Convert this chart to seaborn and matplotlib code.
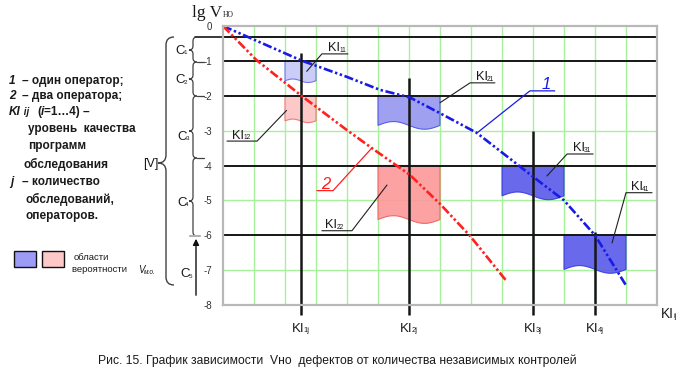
import numpy as np
import matplotlib
matplotlib.use("Agg")
import matplotlib.pyplot as plt
import seaborn as sns
from matplotlib.path import Path
from matplotlib.patches import PathPatch, FancyArrowPatch, Rectangle
from matplotlib.transforms import Affine2D, offset_copy, blended_transform_factory

# ---------------- data ----------------
curve1_x = [0.0, 2.53, 3.97, 5.06, 6.03, 7.0, 8.18, 10.0, 11.0, 12.0, 13.03]
curve1_y = [0.0, -0.99, -1.45, -1.83, -2.05, -2.50, -3.06, -4.32, -5.00, -6.00, -7.48]
curve2_x = [0.0, 1.07, 2.53, 3.99, 4.8, 6.03, 7.0, 7.97, 9.16]
curve2_y = [0.0, -0.97, -2.00, -2.98, -3.50, -4.27, -5.10, -6.02, -7.33]

region_names = ["11", "21", "31", "41", "12", "22"]
region_x0 = [2, 5, 9, 11, 2, 5]
region_x1 = [3, 7, 11, 13, 3, 7]
region_top = [-1, -2, -4, -6, -2, -4]
region_bottom = [-1.57, -2.85, -4.87, -6.98, -2.72, -5.55]
region_colors = ["#c8c8f8", "#9898f0", "#5c5cea", "#5c5cea", "#fcc4c4", "#fc9a9a"]
region_edges = ["#6a6af0", "#5050e8", "#3a3ae0", "#3a3ae0", "#f07070", "#f06060"]

level_lines = [-0.32, -1, -2, -4, -6]
green_levels = [-3, -5, -7]
x_grid = list(range(1, 14))

ki_x = [2.5, 6, 10, 12]
ki_top = [-0.78, -1.5, -3.0, -5.9]
ki_subs = ["1j", "2j", "3j", "4j"]

y_ticks = [0, -1, -2, -3, -4, -5, -6, -7, -8]
y_tick_labels = ["0", "-1", "-2", "-3", "-4", "-5", "-6", "-7", "-8"]

callout_subs = ["11", "12", "21", "31", "41", "22"]
callout_tip_x = [2.7, 2.05, 7.0, 10.45, 12.55, 5.29]
callout_tip_y = [-1.3, -2.42, -2.2, -4.3, -6.22, -4.56]
callout_elbow_x = [3.19, 1.1, 7.97, 11.1, 13.0, 4.16]
callout_elbow_y = [-0.8, -3.3, -1.63, -3.67, -4.78, -5.87]
callout_end_x = [4.03, 0.13, 8.77, 11.94, 13.84, 3.19]
callout_text_x = [3.4, 0.3, 8.15, 11.28, 13.15, 3.3]

curve_names = ["1", "2"]
curve_colors = ["#1a1ae6", "#ff2020"]
curve_tip = [(8.23, -3.04), (4.8, -3.5)]
curve_elbow = [(9.9, -1.86), (3.55, -4.72)]
curve_end_x = [10.7, 3.03]
curve_text_x = [10.42, 3.3]

# ---------------- figure ----------------
sns.set_theme(style="white")
plt.rcParams["font.family"] = ["Liberation Sans", "DejaVu Sans"]

fig = plt.figure(figsize=(6.88, 3.80), dpi=100)
fig.patch.set_facecolor("white")
TP = Affine2D().scale(1 / 688, -1 / 380).translate(0, 1) + fig.transFigure
R = fig.canvas.get_renderer()

ax = fig.add_axes([223 / 688, 1 - 305 / 380, (657 - 223) / 688, (305 - 26) / 380])
ax.set_facecolor("white")

GREEN = "#a6f29a"
BLACK = "#161616"

# grid
ax.vlines(x_grid, -8, 0, color=GREEN, lw=1.0, zorder=1)
ax.hlines(green_levels, 0, 14, color=GREEN, lw=1.0, zorder=1)

# regions with wavy bottom
for n, x0, x1, top, bot, fc, ec in zip(region_names, region_x0, region_x1, region_top,
                                       region_bottom, region_colors, region_edges):
    t = np.linspace(0, 1, 60)
    xs = x0 + (x1 - x0) * t
    amp = 0.055 * (x1 - x0) if (x1 - x0) > 1 else 0.05
    yb = bot + amp * np.sin(2 * np.pi * t)
    px = np.concatenate([[x0], xs, [x1]])
    py = np.concatenate([[top], yb, [top]])
    ax.fill(px, py, facecolor=fc, edgecolor=ec, lw=0.8, alpha=0.92, zorder=2)

# black level lines
ax.hlines(level_lines, 0, 14, color=BLACK, lw=1.4, zorder=3)
ax.plot([-0.9, 0], [-0.32, -0.32], color=BLACK, lw=1.2, clip_on=False, zorder=3)

# KI vertical lines
ax.vlines(ki_x, -8.3, ki_top, color=BLACK, lw=1.8, zorder=3, clip_on=False)

# curves
for xs, ys, c in [(curve1_x, curve1_y, curve_colors[0]), (curve2_x, curve2_y, curve_colors[1])]:
    sns.lineplot(x=xs, y=ys, ax=ax, color=c, linewidth=1.9, sort=False, estimator=None, zorder=5)
    ln = ax.get_lines()[-1]
    ln.set_dashes([3.5, 1.0, 0.9, 1.0, 0.9, 1.0])
    ln.set_dash_capstyle("butt")

ax.set_xlim(0, 14)
ax.set_ylim(-8, 0)
ax.set_xlabel("")
ax.set_ylabel("")
ax.set_xticks([])
ax.set_yticks(y_ticks)
ax.set_yticklabels(y_tick_labels, fontsize=7, color="#303030")
ax.tick_params(axis="y", length=0, pad=8)
for s in ax.spines.values():
    s.set_color("#b8b8b8")
    s.set_linewidth(1.6)
    s.set_visible(True)
    s.set_zorder(6)


def sub_label(x, y, main, sub, transform, size=9.0, subsize=5.0, ha="left",
              color="#1a1a1a", sub_dy=-1.5, style="normal", family=None, va="baseline", gap=-0.6):
    kw = dict(color=color, style=style, va=va, ha="left")
    if family:
        kw["family"] = family
    t1 = fig.text(x, y, main, transform=transform, fontsize=size, **kw)
    w1 = t1.get_window_extent(R).width
    t2 = fig.text(x, y, sub, transform=offset_copy(transform, fig, x=w1 + gap, y=sub_dy, units="dots"),
                  fontsize=subsize, **kw)
    w2 = t2.get_window_extent(R).width
    if ha == "center":
        sh = -(w1 + gap + w2) / 2
        t1.set_transform(offset_copy(transform, fig, x=sh, y=0, units="dots"))
        t2.set_transform(offset_copy(transform, fig, x=sh + w1 + gap, y=sub_dy, units="dots"))
    return t1, t2


# callouts
for sub, tx, ty, ex, ey, ux, txt_x in zip(callout_subs, callout_tip_x, callout_tip_y, callout_elbow_x,
                                         callout_elbow_y, callout_end_x, callout_text_x):
    ax.plot([tx, ex, ux], [ty, ey, ey], color="#202020", lw=0.8, zorder=6, clip_on=False)
    tr = offset_copy(ax.transData, fig, x=0, y=2.5, units="dots")
    sub_label(txt_x, ey, "KI", sub, tr, size=9.3, subsize=4.8, sub_dy=-0.5)

for name, c, tip, el, ux, txt_x in zip(curve_names, curve_colors, curve_tip, curve_elbow,
                                       curve_end_x, curve_text_x):
    ax.plot([tip[0], el[0], ux], [tip[1], el[1], el[1]], color=c, lw=0.9, zorder=6, clip_on=False)
    tr = offset_copy(ax.transData, fig, x=0, y=2.0, units="dots")
    fig.text(txt_x, el[1], name, transform=tr, fontsize=12, color=c, style="italic",
             ha="center", va="baseline")

# x labels under the KI lines
bt = blended_transform_factory(ax.transData, TP)
for x, s in zip(ki_x, ki_subs):
    sub_label(x, 332, "KI", s, bt, size=9.5, subsize=5.5, ha="center", sub_dy=-0.5, gap=-1.0)

# axis titles
sub_label(661, 318, "KI", "ij", TP, size=9.8, subsize=5.5, sub_dy=-0.5, gap=-0.8)
sub_label(192, 17, "lg V", "НО", TP, size=12.5, subsize=5.5, sub_dy=0, gap=0.5,
          family=["Liberation Serif", "DejaVu Serif"])


# braces
def brace(bx, y1, y2, ym, d, lw=1.0):
    verts = [(bx + d, y1), (bx, y1), (bx, y1 + d), (bx, ym - d), (bx, ym), (bx - d, ym),
             (bx, ym), (bx, ym + d), (bx, y2 - d), (bx, y2), (bx + d, y2)]
    codes = [Path.MOVETO, Path.CURVE3, Path.CURVE3, Path.LINETO, Path.CURVE3, Path.CURVE3,
             Path.CURVE3, Path.CURVE3, Path.LINETO, Path.CURVE3, Path.CURVE3]
    fig.add_artist(PathPatch(Path(verts, codes), transform=TP, fill=False, edgecolor="#404040", lw=lw))


brace(166, 37, 285, 163, 8, lw=1.0)
brace_y = [(37, 62, 50), (62, 96, 79), (96, 158, 131), (158, 236, 201)]
for y1, y2, ym in brace_y:
    brace(193, y1, y2, ym, 4, lw=0.9)
for y in [62, 96, 158]:
    fig.add_artist(plt.Line2D([197, 204], [y, y], transform=TP, color="#404040", lw=0.9))
fig.add_artist(plt.Line2D([190, 200], [236, 236], transform=TP, color="#b0b0b0", lw=1.5))

c_labels = ["1", "2", "3", "4", "5"]
c_pos = [(175, 54), (175, 83), (177, 140), (177, 206), (180, 277)]
for s, (x, y) in zip(c_labels, c_pos):
    sub_label(x, y, "C", s, TP, size=9.5, subsize=4.5, sub_dy=-0.5, gap=-1.2)

fig.add_artist(FancyArrowPatch((196, 298), (196, 236), transform=TP, arrowstyle="-|>",
                               mutation_scale=9, color="#101010", lw=1.0))
fig.text(143, 167, "[V]", transform=TP, fontsize=9, color="#1a1a1a", va="baseline")


# left explanatory text
def chain(x, y, pieces, size=8.5):
    cx = 0.0
    for txt, st, sz in pieces:
        t = fig.text(x, y, txt, transform=offset_copy(TP, fig, x=cx, y=0, units="dots"),
                     fontsize=sz or size, weight="bold", style=st, color="#1a1a1a", va="center")
        cx += t.get_window_extent(R).width


chain(9, 81, [("1", "italic", None)])
chain(22, 81, [("– один оператор;", "normal", None)])
chain(9, 96, [("2", "italic", None)])
chain(22, 96, [("– два оператора;", "normal", None)])
chain(9, 112, [("KI", "italic", None), (" ij", "italic", 7.0)])
chain(37, 112, [("(", "normal", None), ("i", "italic", None), ("=1…4) –", "normal", None)])
chain(28, 129, [("уровень  качества", "normal", None)])
chain(28, 146, [("программ", "normal", None)])
chain(23, 164, [("обследования", "normal", None)])
chain(10, 182, [("j", "italic", None)])
chain(22, 182, [("– количество", "normal", None)])
chain(25, 199, [("обследований,", "normal", None)])
chain(25, 216, [("операторов.", "normal", None)])

# legend swatches
fig.add_artist(Rectangle((14, 251), 22, 16, transform=TP, facecolor="#9c9cf6", edgecolor="#111", lw=1.0))
fig.add_artist(Rectangle((42, 251), 22, 16, transform=TP, facecolor="#fcc8c8", edgecolor="#111", lw=1.0))
fig.text(74, 258, "области", transform=TP, fontsize=6.8, color="#1a1a1a", va="center")
fig.text(72, 270, "вероятности ", transform=TP, fontsize=6.8, color="#1a1a1a", va="center")
sub_label(138, 273, "V", "м.о.", TP, size=7, subsize=4.8, style="italic", sub_dy=-0.5, gap=-0.3)

# caption
fig.text(337, 361, "Рис. 15. График зависимости  Vно  дефектов от количества независимых контролей",
         transform=TP, fontsize=8.7, color="#1a1a1a", ha="center", va="center")

fig.savefig("out.png", dpi=100)
